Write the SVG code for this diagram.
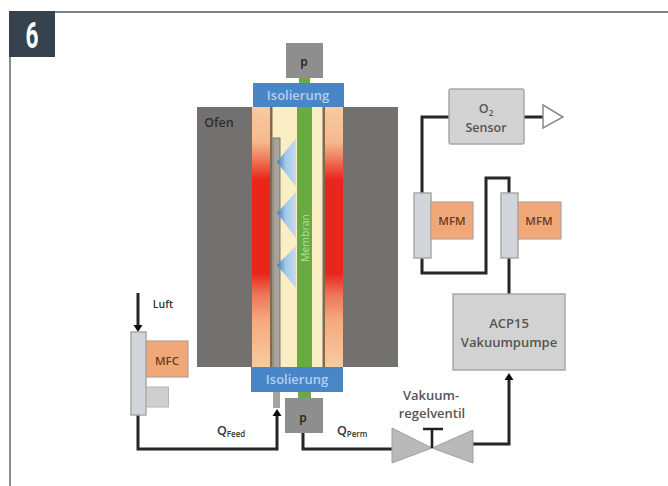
<svg xmlns="http://www.w3.org/2000/svg" width="668" height="486" viewBox="0 0 668 486">
<defs>
<style>
.lbl{font-family:"Open Sans","Noto Sans","Liberation Sans",sans-serif;fill:#555;text-anchor:middle;font-weight:600}
.pipe{fill:none;stroke:#262626;stroke-width:3}
.flow{fill:#d2d6da;stroke:#a9a9a5;stroke-width:1.5}
.mf{fill:#f1a878;stroke:#b5a294;stroke-width:1.2}
.box{fill:#d2d2d2;stroke:#a8a8a8;stroke-width:1.5}
.iso{fill:#4a86c8}
.isot{font-family:"Open Sans","Liberation Sans",sans-serif;font-size:13px;fill:#b4d0ec;text-anchor:middle;font-weight:600}
.p{fill:#8e8e8e}
</style>
<linearGradient id="heat" x1="0" y1="0" x2="0" y2="1">
<stop offset="0" stop-color="#f8cba0"/>
<stop offset="0.135" stop-color="#f6b88e"/>
<stop offset="0.2" stop-color="#ee7a5c"/>
<stop offset="0.28" stop-color="#e8261f"/>
<stop offset="0.64" stop-color="#e8261f"/>
<stop offset="0.72" stop-color="#ee7458"/>
<stop offset="0.82" stop-color="#f5a97e"/>
<stop offset="1" stop-color="#f8cba0"/>
</linearGradient>
<linearGradient id="jet" x1="1" y1="0" x2="0" y2="0">
<stop offset="0" stop-color="#c4dcf2"/>
<stop offset="0.55" stop-color="#a4c8e8"/>
<stop offset="1" stop-color="#3e78b8"/>
</linearGradient>
<filter id="soft" x="-5%" y="-5%" width="110%" height="110%"><feGaussianBlur stdDeviation="0.6"/></filter>
</defs>
<rect width="668" height="486" fill="#fff"/>
<path d="M9 12H668M10 57V486" fill="none" stroke="#7d8288" stroke-width="1.8"/>
<rect x="9" y="11" width="46" height="46" fill="#36424e"/>
<text x="32" y="48" font-family="'Liberation Sans Narrow','Roboto','Liberation Sans',sans-serif" font-size="37" font-weight="700" fill="#fff" text-anchor="middle" textLength="13" lengthAdjust="spacingAndGlyphs">6</text>
<g filter="url(#soft)">
<g id="furnace">
<rect x="197" y="107" width="201" height="260" fill="#737070"/>
</g>
<g id="reactor">
<rect x="252" y="107" width="91" height="260" fill="#fbeec4"/>
<rect x="252" y="107" width="18" height="260" fill="url(#heat)"/>
<rect x="325" y="107" width="18" height="260" fill="url(#heat)"/>
<rect x="270" y="107" width="2.5" height="260" fill="#80685a"/>
<rect x="322.5" y="107" width="2.5" height="260" fill="#80685a"/>
<rect x="297" y="107" width="15" height="260" fill="#6aaa42"/>
<rect x="273" y="138" width="7" height="240" fill="#a5a39c" stroke="#80786e" stroke-width="1"/>
<polygon points="296,138 296,187 277,162" fill="url(#jet)"/>
<polygon points="296,192 296,238 277,213" fill="url(#jet)"/>
<polygon points="296,246 296,288 277,265" fill="url(#jet)"/>
</g>
<g id="iso-top"><rect x="253" y="83" width="91" height="24" class="iso"/></g>
<g id="iso-bottom"><rect x="251" y="367" width="92" height="25" class="iso"/></g>
<rect x="299" y="78" width="11" height="5" fill="#6aaa42"/>
<rect x="298" y="392" width="13" height="7" fill="#6aaa42"/>
<rect x="273" y="392" width="7" height="16" fill="#a5a39c"/>
<g id="p-top"><rect x="286" y="43" width="37" height="35" class="p"/></g>
<g id="p-bottom"><rect x="285" y="398" width="38" height="35" class="p"/></g>
<g id="connectors">
<path class="pipe" d="M138 293V327"/>
<path d="M133.500 325h9l-4.500 7z" fill="#111"/>
<path class="pipe" d="M138 414V449H277V412"/>
<path d="M272.500 416h9l-4.500-7z" fill="#111"/>
<path class="pipe" d="M303 433V449H392"/>
<path class="pipe" d="M472 444H509V378"/>
<path d="M504.500 380h9l-4.500-7z" fill="#111"/>
<path class="pipe" d="M509 294V258"/>
<path class="pipe" d="M509 193V178H486V273H422V258"/>
<path class="pipe" d="M422 193V117H450"/>
<path class="pipe" d="M524 117H543"/>
<polygon points="543,105 563,117 543,128" fill="#fff" stroke="#8a8a8a" stroke-width="1.5"/>
</g>
<g id="mfc">
<rect x="131" y="332" width="15" height="83" class="flow"/>
<rect x="146.500" y="341" width="41.500" height="36" class="mf"/>
<rect x="146.500" y="387" width="22" height="20" fill="#cfcfcf" stroke="#b5b5b5"/>
</g>
<g id="mfm-left">
<rect x="414" y="193" width="17" height="65" class="flow"/>
<rect x="431" y="202" width="42" height="37" class="mf"/>
</g>
<g id="mfm-right">
<rect x="501" y="193" width="17" height="65" class="flow"/>
<rect x="518" y="202" width="43" height="37" class="mf"/>
</g>
<g id="sensor"><rect x="449" y="89" width="75" height="55" rx="2" class="box"/></g>
<g id="pump"><rect x="453" y="294" width="112" height="76" class="box"/></g>
<g id="valve">
<polygon points="392,428 432,448 473,430 473,463 432,448 392,463" fill="#b9b9b9" stroke="#a0a0a0"/>
<path d="M432 448V429M423 429H443" fill="none" stroke="#222" stroke-width="2.6"/>
</g>
</g>
<g id="labels">
<text x="219" y="127" class="lbl" font-size="12.500" style="fill:#2e2e2e">Ofen</text>
<text transform="translate(309,238) rotate(-90)" font-family="'Open Sans','Liberation Sans',sans-serif" font-size="10.500" fill="#b4dca2" text-anchor="middle">Membran</text>
<text x="298" y="100" class="isot">Isolierung</text>
<text x="297" y="384" class="isot">Isolierung</text>
<text x="304" y="66" class="lbl" font-size="12" style="fill:#222">p</text>
<text x="303" y="422" class="lbl" font-size="12" style="fill:#222">p</text>
<text x="163" y="308" class="lbl" font-size="10.500" style="fill:#333">Luft</text>
<text x="167" y="365" class="lbl" font-size="11.500" style="fill:#6a3a22">MFC</text>
<text x="452" y="225" class="lbl" font-size="11.500" style="fill:#6a3a22">MFM</text>
<text x="539" y="225" class="lbl" font-size="11.500" style="fill:#6a3a22">MFM</text>
<text x="486" y="113" class="lbl" font-size="12.500">O<tspan font-size="8" dy="3">2</tspan></text>
<text x="486" y="132" class="lbl" font-size="12.500">Sensor</text>
<text x="509" y="328" class="lbl" font-size="13">ACP15</text>
<text x="509" y="347" class="lbl" font-size="13">Vakuumpumpe</text>
<text x="431" y="400" class="lbl" font-size="13">Vakuum-</text>
<text x="432" y="418" class="lbl" font-size="13">regelventil</text>
<text x="217" y="435" class="lbl" font-size="12.500" style="fill:#333;text-anchor:start">Q<tspan font-size="8" dy="2">Feed</tspan></text>
<text x="337" y="435" class="lbl" font-size="12.500" style="fill:#333;text-anchor:start">Q<tspan font-size="8" dy="2">Perm</tspan></text>
</g>
</svg>
